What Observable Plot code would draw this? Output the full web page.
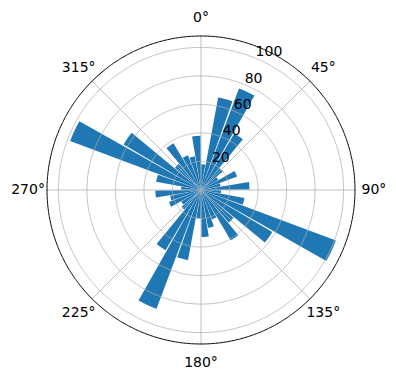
<!DOCTYPE html>
<html><head><meta charset="utf-8">
<script src="https://cdn.jsdelivr.net/npm/d3@7"></script>
<script src="https://cdn.jsdelivr.net/npm/@observablehq/plot@0.6"></script>
<style>body{margin:0;background:#fff}</style>
</head><body><div id="chart"></div>
<script>
// bin start angles (degrees, clockwise from north) and bar heights
const binStarts = [0,10,20,30,40,50,60,70,80,90,100,110,120,130,140,150,160,170,180,190,200,210,220,230,240,250,260,270,280,290,300,310,320,330,340,350];
const values    = [18,66,76,46,20,14,27,14,34,14,31,101,58,30,41,22,27,33,20,50,89,49,18,16,24,22,32,14,32,98,63,24,38,26,24,38];
const radialTicks = [20,40,60,80,100];
const angleTicks = [0,45,90,135,180,225,270,315];
const angleLabels = ["0°","45°","90°","135°","180°","225°","270°","315°"];
const rMax = 108;
const binWidth = 10, barWidth = 9;

const k = 0.5; // degrees of arc per radial unit
const lon = t => 180 - t;
const lat = r => 90 - r * k;

const bars = binStarts.map((s, i) => ({a0: s + (binWidth - barWidth) / 2, a1: s + (binWidth + barWidth) / 2, r: values[i]}));

function sector(d) {
  const L0 = lon(d.a1), L1 = lon(d.a0), la = lat(d.r);
  const ring = [[L0, la], [L0, 90], [L1, la]];
  const n = 24;
  for (let j = 1; j <= n; j++) ring.push([L1 + (L0 - L1) * j / n, la]);
  return {type: "Polygon", coordinates: [ring]};
}

const circle = r => d3.geoCircle().center([0, 90]).radius(r * k).precision(0.5)();

const plot = Plot.plot({
  width: 396, height: 380,
  marginLeft: 46.5, marginRight: 41.5, marginTop: 35.5, marginBottom: 36.5,
  style: {fontFamily: "DejaVu Sans", background: "#fff"},
  projection: {
    type: "azimuthal-equidistant",
    rotate: [0, -90],
    domain: circle(rMax),
    clip: false
  },
  marks: [
    Plot.geo(bars, {geometry: sector, fill: "#1f77b4", stroke: "none"}),
    Plot.geo(radialTicks, {geometry: circle, stroke: "#b0b0b0", strokeWidth: 0.8, fill: "none"}),
    Plot.geo(angleTicks, {geometry: a => ({type: "LineString", coordinates: [[lon(a), 90], [lon(a), lat(rMax)]]}), stroke: "#b0b0b0", strokeWidth: 0.8}),
    Plot.geo([rMax], {geometry: circle, stroke: "black", strokeWidth: 1, fill: "none"}),
    Plot.text(angleTicks, {x: a => lon(a), y: () => lat(121.3), text: (a, i) => angleLabels[i], fontSize: 14, fill: "black"}),
    Plot.text(radialTicks, {x: () => lon(22.5), y: r => lat(r), text: r => String(r), textAnchor: "start", lineAnchor: "bottom", dy: -2, fontSize: 14, fill: "black"})
  ]
});
document.getElementById("chart").appendChild(plot);
</script>
</body></html>
